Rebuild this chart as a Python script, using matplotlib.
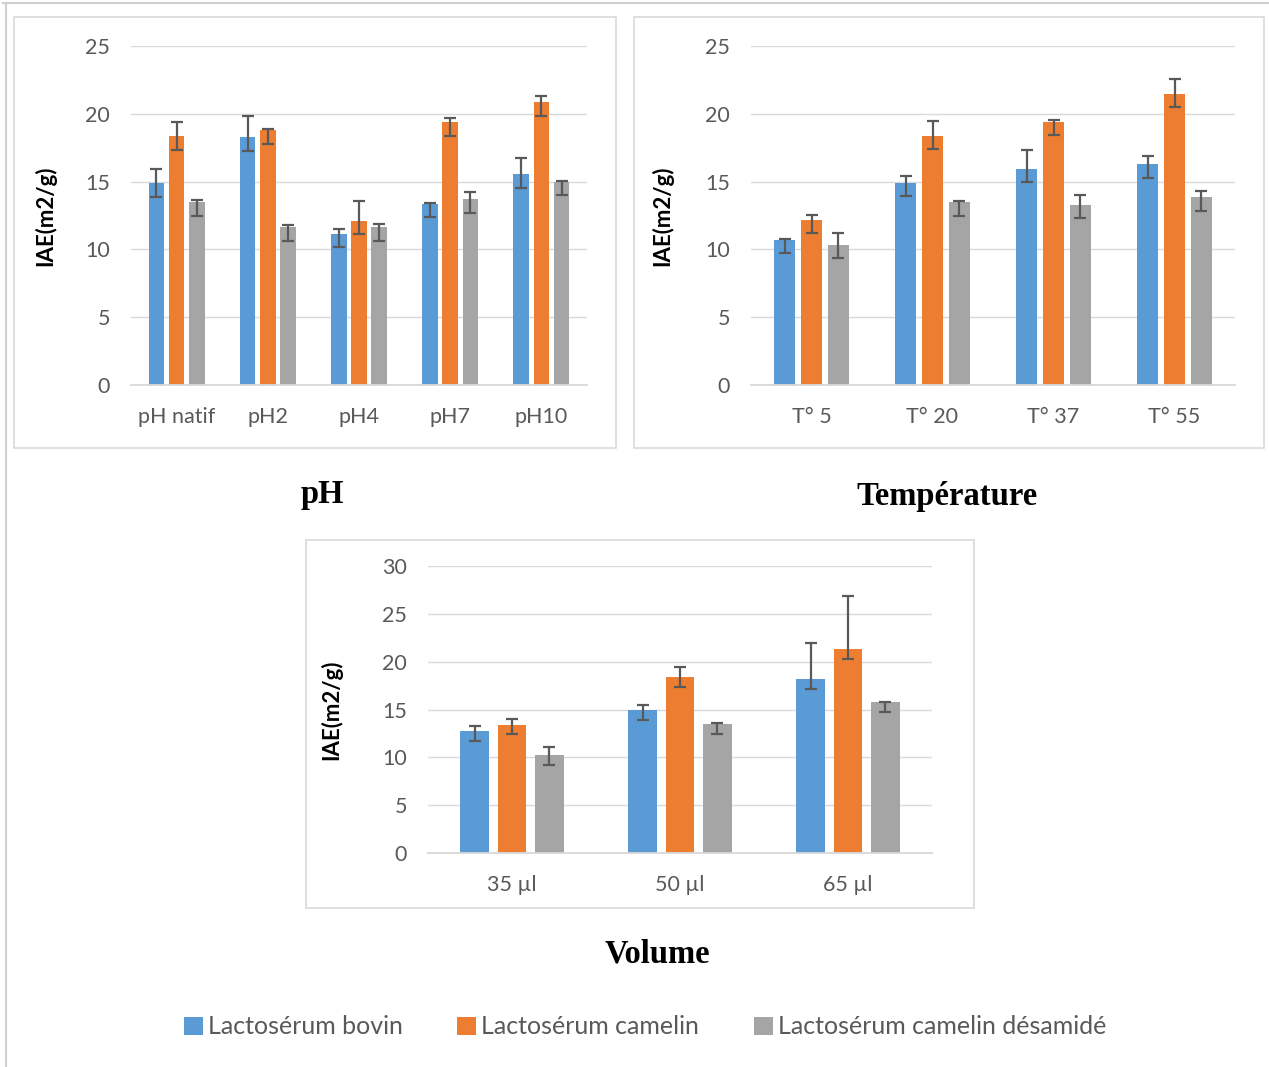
import matplotlib
matplotlib.use("Agg")
import matplotlib.pyplot as plt
from matplotlib.patches import Rectangle, Patch
from matplotlib.lines import Line2D
import numpy as np

W, H = 1269, 1067

series = ["Lactosérum bovin", "Lactosérum camelin", "Lactosérum camelin désamidé"]
colors = ["#5B9BD5", "#ED7D31", "#A5A5A5"]

# pH panel
ph_cats = ["pH natif", "pH2", "pH4", "pH7", "pH10"]
ph_bovin = [14.9, 18.26, 11.15, 13.38, 15.56]
ph_camelin = [18.36, 18.8, 12.13, 19.39, 20.85]
ph_desamide = [13.46, 11.64, 11.62, 13.7, 14.98]
ph_err_up_bovin = [1.03, 1.59, 0.39, 0.05, 1.15]
ph_err_up_camelin = [1.0, 0.07, 1.45, 0.27, 0.44]
ph_err_up_desamide = [0.15, 0.17, 0.27, 0.51, 0.07]

# Temperature panel
t_cats = ["T° 5", "T° 20", "T° 37", "T° 55"]
t_bovin = [10.73, 14.93, 15.94, 16.29]
t_camelin = [12.2, 18.38, 19.41, 21.48]
t_desamide = [10.33, 13.5, 13.31, 13.83]
t_err_up_bovin = [0.05, 0.47, 1.38, 0.61]
t_err_up_camelin = [0.34, 1.06, 0.15, 1.06]
t_err_up_desamide = [0.91, 0.1, 0.71, 0.47]

# Volume panel
v_cats = ["35 µl", "50 µl", "65 µl"]
v_bovin = [12.74, 14.93, 18.16]
v_camelin = [13.4, 18.37, 21.28]
v_desamide = [10.21, 13.47, 15.76]
v_err_up_bovin = [0.56, 0.49, 3.82]
v_err_up_camelin = [0.56, 1.04, 5.59]
v_err_up_desamide = [0.9, 0.17, 0.07]

err_down = 1.0  # lower error bar is the same everywhere

plt.rcParams['font.family'] = ['Lato', 'DejaVu Sans']

fig = plt.figure(figsize=(W / 100, H / 100), dpi=100)


def rect(x0, x1, ytop, ybot):
    return [x0 / W, 1 - ybot / H, (x1 - x0) / W, (ybot - ytop) / H]


def box(x0, y0, x1, y1, color="#D9D9D9", lw=1.2):
    fig.patches.append(Rectangle((x0 / W, 1 - y1 / H), (x1 - x0) / W, (y1 - y0) / H,
                                 transform=fig.transFigure, fill=False,
                                 edgecolor=color, linewidth=lw))


def draw_panel(pos, cats, vals, ups, ymax, step, ylab_x):
    ax = fig.add_axes(pos)
    x = np.arange(len(cats))
    width, offset = 0.172, 0.222
    for i, (v, up) in enumerate(zip(vals, ups)):
        xs = x + (i - 1) * offset
        ax.bar(xs, v, width, color=colors[i], zorder=2)
        ax.errorbar(xs, v, yerr=[[err_down] * len(v), up], fmt="none",
                    ecolor="#595959", elinewidth=1.6, capsize=4.5, capthick=1.6, zorder=3)
    ax.set_xlim(-0.5, len(cats) - 0.5)
    ax.set_ylim(0, ymax)
    ax.set_yticks(np.arange(0, ymax + 0.1, step))
    ax.set_xticks(x)
    ax.set_xticklabels(cats)
    ax.grid(axis="y", color="#D9D9D9", linewidth=1.0, zorder=0)
    for s in ["top", "right", "left"]:
        ax.spines[s].set_visible(False)
    ax.spines["bottom"].set_color("#D9D9D9")
    ax.spines["bottom"].set_linewidth(1.3)
    ax.tick_params(axis="both", length=0, labelsize=15.5, colors="#595959")
    ax.tick_params(axis="y", pad=15)
    ax.tick_params(axis="x", pad=16)
    ax.set_ylabel("IAE(m2/g)", fontsize=16, fontweight="bold", color="black")
    ax.yaxis.set_label_coords(ylab_x, 0.5)
    return ax


# outer frame lines
fig.add_artist(Line2D([3 / W, 1], [1 - 3 / H, 1 - 3 / H], transform=fig.transFigure,
                      color="#D0D0D0", linewidth=1.5))
fig.add_artist(Line2D([6 / W, 6 / W], [1 - 3 / H, 0], transform=fig.transFigure,
                      color="#D0D0D0", linewidth=1.5))

box(14, 17, 616, 448)
box(634, 17, 1264, 448)
box(306, 540, 974, 908)

draw_panel(rect(131, 587, 46, 385), ph_cats,
           [ph_bovin, ph_camelin, ph_desamide],
           [ph_err_up_bovin, ph_err_up_camelin, ph_err_up_desamide], 25, 5, -0.164)
draw_panel(rect(751, 1235, 46, 385), t_cats,
           [t_bovin, t_camelin, t_desamide],
           [t_err_up_bovin, t_err_up_camelin, t_err_up_desamide], 25, 5, -0.161)
draw_panel(rect(428, 932, 566, 853), v_cats,
           [v_bovin, v_camelin, v_desamide],
           [v_err_up_bovin, v_err_up_camelin, v_err_up_desamide], 30, 5, -0.171)

title_font = dict(family="Liberation Serif", fontweight="bold", fontsize=23.5,
                  ha="center", va="center")
fig.text(322 / W, 1 - 494 / H, "pH", **title_font)
fig.text(947 / W, 1 - 497 / H, "Température", **title_font)
fig.text(657 / W, 1 - 954 / H, "Volume", **title_font)

handles = [Patch(facecolor=c, edgecolor="none") for c in colors]
leg = fig.legend(handles, series, loc="center", bbox_to_anchor=(645 / W, 1 - 1027 / H),
                 ncol=3, frameon=False, fontsize=18, handlelength=0.75, handleheight=0.75,
                 handletextpad=0.2, columnspacing=2.2)
for t in leg.get_texts():
    t.set_color("#595959")

fig.savefig("out.png", dpi=100)
